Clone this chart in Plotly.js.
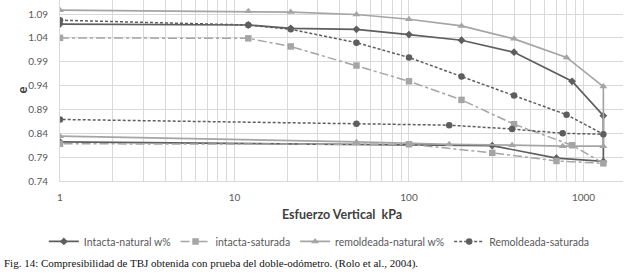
<!DOCTYPE html>
<html>
<head>
<meta charset="utf-8">
<script src="https://cdn.plot.ly/plotly-3.0.1.min.js"></script>
<style>html,body{margin:0;padding:0;background:#fff;}#chart{width:626px;height:275px;}</style>
</head>
<body>
<div id="chart"></div>
<script>
// ---- data ----
const seriesNames = ["Intacta-natural w%", "intacta-saturada", "remoldeada-natural w%", "Remoldeada-saturada"];

const intactaNaturalX = [1, 12, 21, 50, 100, 200, 400, 860, 1300, 1300, 700, 300, 1];
const intactaNaturalY = [1.069, 1.067, 1.060, 1.058, 1.047, 1.035, 1.010, 0.949, 0.877, 0.781, 0.788, 0.814, 0.822];

const intactaSaturadaX = [1, 12, 21, 50, 100, 200, 400, 860, 1300, 700, 300, 100, 1];
const intactaSaturadaY = [1.040, 1.039, 1.022, 0.982, 0.949, 0.910, 0.859, 0.815, 0.777, 0.782, 0.799, 0.817, 0.818];

const remoldeadaNaturalX = [1, 12, 21, 50, 100, 200, 400, 800, 1300, 1300, 760, 390, 170, 50, 1];
const remoldeadaNaturalY = [1.098, 1.096, 1.094, 1.089, 1.079, 1.065, 1.038, 0.999, 0.938, 0.813, 0.813, 0.815, 0.817, 0.822, 0.834];

const remoldeadaSaturadaX = [1, 12, 21, 50, 100, 200, 400, 800, 1300, 760, 390, 170, 50, 1];
const remoldeadaSaturadaY = [1.077, 1.067, 1.058, 1.030, 0.999, 0.959, 0.919, 0.879, 0.838, 0.840, 0.849, 0.857, 0.860, 0.869];

const xTickVals = [1, 10, 100, 1000];
const xTickText = ["1", "10", "100", "1000"];
const yTickVals = [0.74, 0.79, 0.84, 0.89, 0.94, 0.99, 1.04, 1.09];
const yTickText = ["0.74", "0.79", "0.84", "0.89", "0.94", "0.99", "1.04", "1.09"];

const xTitle = "Esfuerzo Vertical&nbsp; kPa";
const yTitle = "e";
const caption = "Fig. 14: Compresibilidad de TBJ obtenida con prueba del doble-odómetro. (Rolo et al., 2004).";

// ---- styles ----
const dark = "#5e5e5e";
const light = "#a5a5a5";
const grid = "#d9d9d9";
const textGray = "#595959";
const baseFont = "Lato, 'Open Sans', sans-serif";

const traces = [
  {x: intactaNaturalX, y: intactaNaturalY, name: seriesNames[0], mode: "lines+markers",
   line: {color: dark, width: 1.7}, marker: {symbol: "diamond", size: 6, color: dark}},
  {x: intactaSaturadaX, y: intactaSaturadaY, name: seriesNames[1], mode: "lines+markers",
   line: {color: light, width: 1.5, dash: "dashdot"}, marker: {symbol: "square", size: 6.5, color: light}},
  {x: remoldeadaNaturalX, y: remoldeadaNaturalY, name: seriesNames[2], mode: "lines+markers",
   line: {color: light, width: 1.7}, marker: {symbol: "triangle-up", size: 7, color: light}},
  {x: remoldeadaSaturadaX, y: remoldeadaSaturadaY, name: seriesNames[3], mode: "lines+markers",
   line: {color: dark, width: 1.5, dash: "3px,2px"}, marker: {symbol: "circle", size: 6.5, color: dark}}
];

const plotLeft = 60, plotRight = 623, plotBottom = 180.8;
const W = 626, H = 275;

const layout = {
  width: W, height: H,
  margin: {l: plotLeft, r: W - plotRight, t: 0, b: H - plotBottom, pad: 0},
  paper_bgcolor: "#ffffff", plot_bgcolor: "#ffffff",
  font: {family: baseFont, size: 10, color: textGray},
  showlegend: true,
  legend: {orientation: "h", xref: "container", yref: "container", x: 0.07, y: 0.122,
           xanchor: "left", yanchor: "middle", font: {family: baseFont, size: 10.5, color: textGray},
           itemwidth: 30, tracegroupgap: 0, traceorder: "normal"},
  xaxis: {type: "log", range: [0, 3.2265], tickvals: xTickVals, ticktext: xTickText,
          showgrid: true, gridcolor: grid, gridwidth: 1,
          minor: {dtick: "D1", showgrid: true, gridcolor: grid, gridwidth: 1, ticks: ""},
          showline: true, linecolor: grid, linewidth: 1, zeroline: false,
          ticks: "", ticklabelstandoff: 7, tickfont: {family: baseFont, size: 10, color: textGray},
          automargin: false, fixedrange: true},
  yaxis: {range: [0.74, 1.1194], tickvals: yTickVals, ticktext: yTickText,
          showgrid: true, gridcolor: grid, gridwidth: 1,
          showline: true, linecolor: grid, linewidth: 1, zeroline: false,
          ticks: "", ticklabelstandoff: 9, tickfont: {family: baseFont, size: 10, color: textGray},
          automargin: false, fixedrange: true},
  annotations: [
    {text: "<b>" + xTitle + "</b>", xref: "paper", yref: "paper", x: 0.5, y: 0, xanchor: "center", yanchor: "middle",
     yshift: -33, showarrow: false, font: {family: baseFont, size: 12.5, color: "#404040"}},
    {text: "<b>" + yTitle + "</b>", xref: "paper", yref: "paper", x: 0, y: 0.5, xanchor: "center", yanchor: "middle",
     xshift: -39, textangle: -90, showarrow: false, font: {family: baseFont, size: 13, color: "#404040"}},
    {text: caption, xref: "paper", yref: "paper", x: 0, y: 0, xanchor: "left", yanchor: "middle",
     xshift: -58, yshift: -82, showarrow: false, font: {family: "'Liberation Serif', 'Times New Roman', serif", size: 11, color: "#111111"}}
  ]
};

Plotly.newPlot("chart", traces, layout, {displayModeBar: false, staticPlot: true});
</script>
</body>
</html>
